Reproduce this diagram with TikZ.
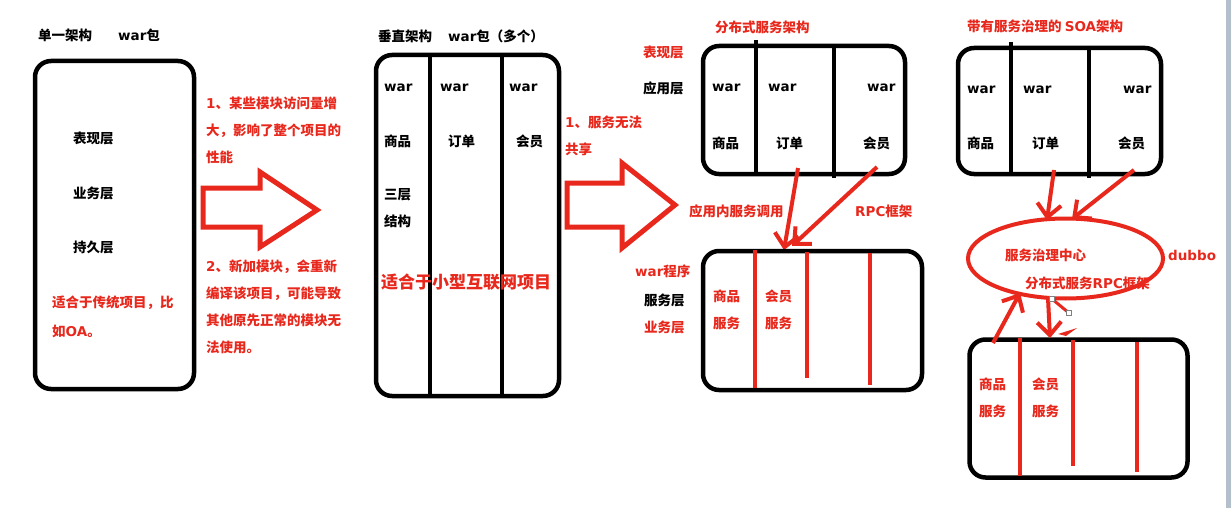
\documentclass[tikz,border=0pt]{standalone}
\usepackage{fontspec}
\setmainfont{Noto Sans CJK SC}
\newfontfamily\westfont{DejaVu Sans}
\usepackage{tikz}
\usetikzlibrary{arrows.meta, shapes.geometric}
\definecolor{Markcolor}{HTML}{E8281C}
\definecolor{Edgecolor}{HTML}{B4BFCC}

\begin{document}
\begin{tikzpicture}[x=1pt, y=-1pt]
    \tikzset{%
        box/.style={draw, line width=4.5pt, rounded corners=16pt},
        wall/.style={line width=4pt},
        redwall/.style={Markcolor, line width=4pt},
        lbl/.style={anchor=west, inner sep=0pt, font=\fontsize{13.5}{27}\selectfont\bfseries},
        redlbl/.style={lbl, text=Markcolor},
        note/.style={redlbl, anchor=north west, align=left},
        fatarrow/.style={draw=Markcolor, line width=5pt, line join=miter},
        call/.style={Markcolor, line width=4pt, -{Straight Barb[length=13pt, width=24pt, line width=4pt]}},
        handle/.style={draw=gray, fill=white, line width=0.8pt, minimum size=5pt, inner sep=0pt},
    }
    \useasboundingbox (0,0) rectangle (1231,508);
    \fill[white] (0,0) rectangle (1231,508);
    \fill[Edgecolor] (1226,0) rectangle (1231,508);

    % single war
    \node[lbl] (monotitle) at (38,35) {单一架构};
    \node[lbl] (monowar) at (118,35) {{\westfont war}包};
    \draw[box] (35,61) rectangle (194,389);
    \node[lbl] (view1) at (73,138) {表现层};
    \node[lbl] (biz1) at (73,193) {业务层};
    \node[lbl] (dao1) at (73,247) {持久层};
    \node[note] (monofit) at (52,296) {适合于传统项目，比\\[2pt]如{\westfont OA}。};

    \node[note] (why1) at (206,97) {{\westfont 1}、某些模块访问量增\\大，影响了整个项目的\\性能};
    \draw[fatarrow] (203,188) -- (260,188) -- (260,172) -- (317,210) -- (260,247) -- (260,227) -- (203,227) -- cycle;
    \node[note] (why2) at (206,260) {{\westfont 2}、新加模块，会重新\\编译该项目，可能导致\\其他原先正常的模块无\\法使用。};

    % vertical
    \node[lbl] (verttitle) at (378,36) {垂直架构};
    \node[lbl] (vertwar) at (448,36) {{\westfont war}包（多个）};
    \draw[box] (376,55) rectangle (559,396);
    \draw[wall] (430,55) -- (430,396);
    \draw[wall] (502,55) -- (502,396);
    \foreach \x/\name/\mod in {384/goods/商品, 440/order/订单, 509/member/会员} {%
        \node[lbl] (war\name) at (\x,88) {\westfont war};
    }
    \node[lbl] (goods2) at (384,141) {商品};
    \node[lbl] (order2) at (448,141) {订单};
    \node[lbl] (member2) at (516,141) {会员};
    \node[lbl, anchor=north west, align=left] (tier2) at (384,188) {三层\\结构};
    \node[redlbl, font=\fontsize{17}{20}\selectfont\bfseries] (vertfit) at (381,282) {适合于小型互联网项目};

    \node[note] (why3) at (565,116) {{\westfont 1}、服务无法\\共享};
    \draw[fatarrow] (567,183) -- (622,183) -- (622,163) -- (675,205) -- (622,248) -- (622,227) -- (567,227) -- cycle;

    % distributed
    \node[redlbl] (disttitle) at (715,27) {分布式服务架构};
    \node[redlbl] (view3) at (643,52) {表现层};
    \node[lbl] (app3) at (643,88) {应用层};
    \draw[box] (703,46) rectangle (905,174);
    \draw[wall] (756,40) -- (756,175);
    \draw[wall] (834,48) -- (834,178);
    \node[lbl] (war3a) at (712,88) {\westfont war};
    \node[lbl] (war3b) at (768,88) {\westfont war};
    \node[lbl] (war3c) at (867,88) {\westfont war};
    \node[lbl] (goods3) at (712,143) {商品};
    \node[lbl] (order3) at (776,143) {订单};
    \node[lbl] (member3) at (863,143) {会员};

    \coordinate (order3out) at (798,168);
    \coordinate (member3out) at (877,167);
    \coordinate (svc3in) at (784,250);
    \coordinate (svc3in2) at (792,246);
    \draw[call] (order3out) -- (svc3in);
    \draw[call] (member3out) -- (svc3in2);
    \node[redlbl] (localcall) at (689,211) {应用内服务调用};
    \node[redlbl] (rpc3) at (855,211) {{\westfont RPC}框架};

    \node[redlbl] (warapp) at (635,271) {{\westfont war}程序};
    \node[lbl] (svc3) at (644,300) {服务层};
    \node[redlbl] (biz3) at (644,327) {业务层};
    \draw[box] (703,251) rectangle (922,390);
    \draw[redwall] (755,250) -- (755,388);
    \draw[redwall] (807,252) -- (807,378);
    \draw[redwall] (870,253) -- (870,385);
    \node[note] (goodssvc3) at (713,290) {商品\\服务};
    \node[note] (membersvc3) at (765,290) {会员\\服务};

    % soa
    \node[redlbl] (soatitle) at (967,26) {带有服务治理的 {\westfont SOA}架构};
    \draw[box] (958,48) rectangle (1161,174);
    \draw[wall] (1011,42) -- (1011,175);
    \draw[wall] (1089,48) -- (1089,178);
    \node[lbl] (war4a) at (967,90) {\westfont war};
    \node[lbl] (war4b) at (1023,90) {\westfont war};
    \node[lbl] (war4c) at (1123,90) {\westfont war};
    \node[lbl] (goods4) at (967,143) {商品};
    \node[lbl] (order4) at (1032,143) {订单};
    \node[lbl] (member4) at (1118,143) {会员};

    \node[draw=Markcolor, line width=4pt, ellipse, minimum width=195pt, minimum height=80pt] (hub) at (1065.5,258.5) {};
    \node[redlbl] (hubname) at (1005,255) {服务治理中心};
    \node[redlbl] (hubrpc) at (1025,283) {分布式服务{\westfont RPC}框架};
    \node[redlbl] (dubbo) at (1168,255) {\westfont dubbo};

    \coordinate (order4out) at (1054,170);
    \coordinate (member4out) at (1134,170);
    \coordinate (hubin) at (1047,220);
    \coordinate (hubin2) at (1072,219);
    \draw[call] (order4out) -- (hubin);
    \draw[call] (member4out) -- (hubin2);

    \draw[box] (969.5,339.5) rectangle (1187.5,477.5);
    \draw[redwall] (1020,338) -- (1020,476);
    \draw[redwall] (1073,340) -- (1073,466);
    \draw[redwall] (1137,342) -- (1137,472);
    \node[note] (goodssvc4) at (979,378) {商品\\服务};
    \node[note] (membersvc4) at (1032,378) {会员\\服务};

    \coordinate (goods4up) at (993,343);
    \coordinate (hubout) at (1020,293);
    \coordinate (hubdown) at (1048,298);
    \coordinate (member4in) at (1050,338);
    \draw[call] (goods4up) -- (hubout);
    \draw[call] (hubdown) -- (member4in);
    \draw[Markcolor, line width=3pt] (1052,299) -- (1069,313);
    \fill[Markcolor] (1058,334) -- (1077,328) -- (1066,336) -- cycle;
    \node[handle] (grip1) at (1052,299) {};
    \node[handle] (grip2) at (1069,313) {};
\end{tikzpicture}
\end{document}
